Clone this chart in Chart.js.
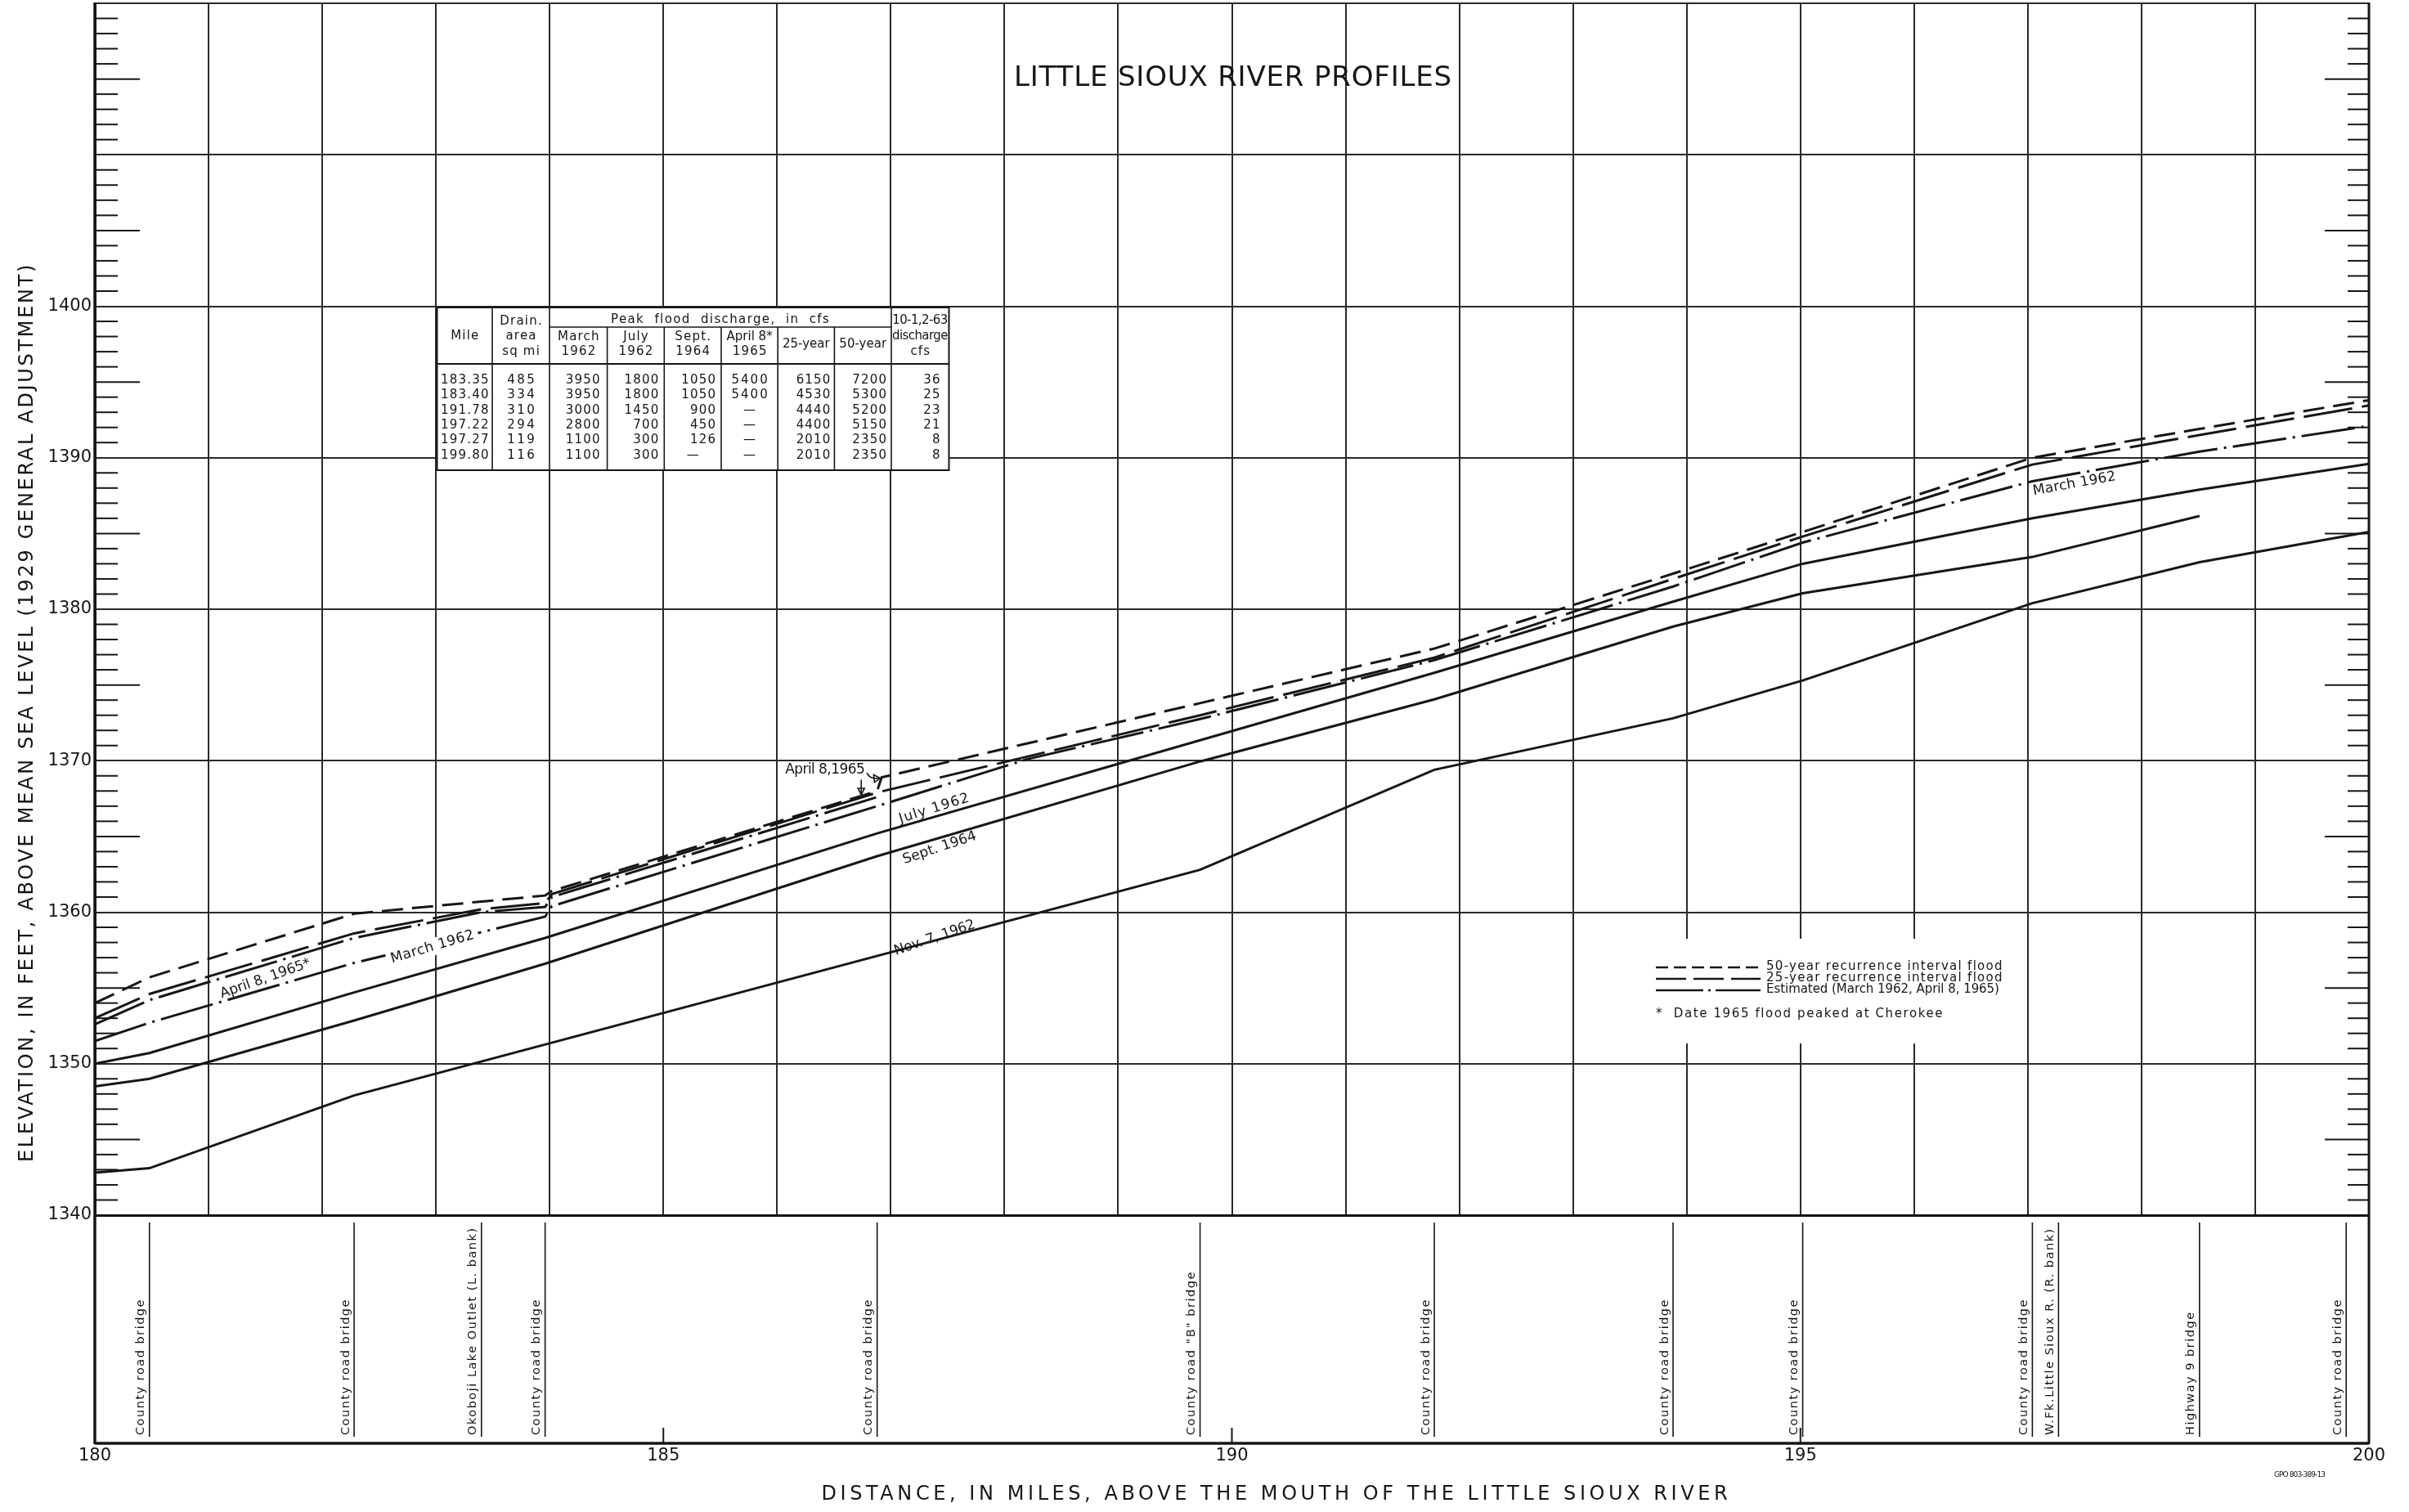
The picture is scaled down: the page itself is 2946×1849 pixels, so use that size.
<!DOCTYPE html>
<html>
<head>
  <title>Little Sioux River profiles</title>
  <script src="https://cdn.jsdelivr.net/npm/chart.js"></script>
  <style>
    body { margin: 0; background: #fff; }
  </style>
</head>
<body>
  <canvas id="profileChart" width="2946" height="1849"></canvas>

  <script>
    // bridges and outlets along the river (mile above the mouth)
    const bridgeMiles = [180.48, 182.28, 183.40, 183.96, 186.88, 189.72, 191.78, 193.88, 195.02, 197.04, 197.27, 198.51, 199.80];
    const bridgeNames = [
      'County road bridge', 'County road bridge', 'Okoboji Lake Outlet (L. bank)', 'County road bridge',
      'County road bridge', 'County road "B" bridge', 'County road bridge', 'County road bridge',
      'County road bridge', 'County road bridge', 'W.Fk.Little Sioux R. (R. bank)', 'Highway 9 bridge',
      'County road bridge'
    ];

    // water-surface profiles, elevation in feet
    const flood50Miles = [180, 180.48, 182.28, 183.96, 184.02, 186.88, 186.92, 189.72, 191.78, 193.88, 195.02, 197.04, 198.51, 200];
    const flood50Elev  = [1354.0, 1355.7, 1359.9, 1361.1, 1361.4, 1368.0, 1368.9, 1373.8, 1377.4, 1382.35, 1385.1, 1390.0, 1391.9, 1393.8];

    const flood25Miles = [180, 180.48, 182.28, 183.40, 183.96, 184.02, 186.88, 189.72, 191.78, 193.88, 195.02, 197.04, 198.51, 200];
    const flood25Elev  = [1353.0, 1354.6, 1358.6, 1360.2, 1360.6, 1361.2, 1367.9, 1373.0, 1376.8, 1382.0, 1384.8, 1389.55, 1391.5, 1393.45];

    const april1965Miles = [180, 180.48, 182.28, 183.40, 183.96, 184.02, 186.88];
    const april1965Elev  = [1352.6, 1354.2, 1358.3, 1360.0, 1360.35, 1361.0, 1367.6];

    const march1962Miles = [180, 180.48, 182.28, 183.96, 184.02, 186.88, 188.2, 189.72, 191.78, 193.88, 195.02, 197.04, 198.51, 200];
    const march1962Elev  = [1351.5, 1352.7, 1356.65, 1359.7, 1360.4, 1367.0, 1370.1, 1372.75, 1376.64, 1381.5, 1384.4, 1388.45, 1390.4, 1392.1];

    const july1962Miles = [180, 180.48, 182.28, 183.96, 186.88, 189.72, 191.78, 193.88, 195.02, 197.04, 198.51, 200];
    const july1962Elev  = [1350.0, 1350.7, 1354.7, 1358.3, 1365.2, 1371.35, 1375.8, 1380.5, 1383.0, 1386.0, 1387.9, 1389.6];

    const sept1964Miles = [180, 180.48, 182.28, 183.96, 186.88, 189.72, 191.78, 193.88, 195.02, 197.04, 198.51];
    const sept1964Elev  = [1348.5, 1349.0, 1352.85, 1356.6, 1363.7, 1369.95, 1374.05, 1378.85, 1381.05, 1383.45, 1386.15];

    const nov1962Miles = [180, 180.48, 182.28, 189.72, 191.78, 193.88, 195.02, 197.04, 198.51, 200];
    const nov1962Elev  = [1342.8, 1343.1, 1347.9, 1362.8, 1369.4, 1372.8, 1375.3, 1380.4, 1383.1, 1385.1];

    // discharge table
    const tableMile      = ['183.35', '183.40', '191.78', '197.22', '197.27', '199.80'];
    const tableDrainArea = [485, 334, 310, 294, 119, 116];
    const peakMarch1962  = [3950, 3950, 3000, 2800, 1100, 1100];
    const peakJuly1962   = [1800, 1800, 1450, 700, 300, 300];
    const peakSept1964   = [1050, 1050, 900, 450, 126, null];
    const peakApril1965  = [5400, 5400, null, null, null, null];
    const flood25Q       = [6150, 4530, 4440, 4400, 2010, 2010];
    const flood50Q       = [7200, 5300, 5200, 5150, 2350, 2350];
    const discharge1963  = [36, 25, 23, 21, 8, 8];

    const INK = '#161616';
    const FONT = '"DejaVu Sans", sans-serif';
    const STRIP_BOTTOM = 1765;

    const DASH_50 = [26, 11];
    const DASH_25 = [60, 12];
    const DASH_EST = [66, 8, 3, 8];

    const toPoints = (xs, ys) => xs.map((x, i) => ({ x: x, y: ys[i] }));

    const profile = (label, xs, ys, dash) => ({
      label: label,
      data: toPoints(xs, ys),
      borderColor: INK,
      borderWidth: 3,
      borderDash: dash,
      pointRadius: 0,
      tension: 0,
      fill: false
    });

    // text squeezed or spread to a given length
    function fitText(ctx, text, x, y, size, width, opts = {}) {
      ctx.save();
      ctx.font = `${size}px ${FONT}`;
      ctx.letterSpacing = '0px';
      const w0 = ctx.measureText(text).width;
      const sp = (width - w0) / text.length;
      ctx.letterSpacing = sp.toFixed(2) + 'px';
      ctx.translate(x, y);
      if (opts.angle) ctx.rotate(opts.angle * Math.PI / 180);
      const align = opts.align || 'center';
      const start = align === 'center' ? -width / 2 : (align === 'right' ? -width : 0);
      if (opts.bg) {
        ctx.fillStyle = '#fff';
        ctx.fillRect(start - 5, -size * 0.62, width + 10, size * 1.24);
      }
      ctx.fillStyle = INK;
      ctx.textAlign = 'left';
      ctx.textBaseline = opts.baseline || 'middle';
      ctx.fillText(text, start, 0);
      ctx.restore();
    }

    function cellText(ctx, text, x, y, align, spacing) {
      ctx.save();
      ctx.font = `15px ${FONT}`;
      const sp = spacing === undefined ? 1.2 : spacing;
      ctx.letterSpacing = sp + 'px';
      ctx.fillStyle = INK;
      ctx.textAlign = align;
      ctx.textBaseline = 'middle';
      let px = x;
      if (align === 'right') px = x + sp;
      if (align === 'center') px = x + sp / 2;
      ctx.fillText(text, px, y);
      ctx.restore();
    }

    function line(ctx, x1, y1, x2, y2, w, dash) {
      ctx.save();
      ctx.strokeStyle = INK;
      ctx.lineWidth = w;
      ctx.setLineDash(dash || []);
      ctx.beginPath();
      ctx.moveTo(x1, y1);
      ctx.lineTo(x2, y2);
      ctx.stroke();
      ctx.restore();
    }

    function drawTable(ctx) {
      const cols = [534.5, 602, 672, 742.6, 812.3, 882, 951.2, 1020.4, 1090, 1160.5];
      const top = 376, headBottom = 445, bottom = 575;
      ctx.fillStyle = '#fff';
      ctx.fillRect(cols[0], top, cols[9] - cols[0], bottom - top);
      ctx.save();
      ctx.strokeStyle = INK;
      ctx.lineWidth = 2;
      ctx.strokeRect(cols[0], top, cols[9] - cols[0], bottom - top);
      ctx.restore();
      line(ctx, cols[0], headBottom, cols[9], headBottom, 2);
      line(ctx, cols[2], 400, cols[8], 400, 1.6);
      cols.slice(1, 9).forEach((cx, i) => {
        const c = i + 1;
        const fromY = (c >= 3 && c <= 7) ? 400 : top;
        line(ctx, cx, fromY, cx, bottom, 1.6);
      });
      const mid = c => (cols[c] + cols[c + 1]) / 2;
      cellText(ctx, 'Mile', mid(0), 411, 'center');
      cellText(ctx, 'Drain.', mid(1), 393, 'center');
      cellText(ctx, 'area', mid(1), 411, 'center');
      cellText(ctx, 'sq mi', mid(1), 430, 'center');
      fitText(ctx, 'Peak  flood  discharge,  in  cfs', (cols[2] + cols[8]) / 2, 391, 15, 268);
      [['March', '1962'], ['July', '1962'], ['Sept.', '1964'], ['April 8*', '1965']].forEach((h, i) => {
        cellText(ctx, h[0], mid(2 + i), 412, 'center', h[0].length > 6 ? 0 : 1.2);
        cellText(ctx, h[1], mid(2 + i), 430, 'center');
      });
      cellText(ctx, '25-year', mid(6), 421, 'center', 0);
      cellText(ctx, '50-year', mid(7), 421, 'center', 0);
      cellText(ctx, '10-1,2-63', mid(8), 392, 'center', -0.6);
      cellText(ctx, 'discharge', mid(8), 411, 'center', -0.6);
      cellText(ctx, 'cfs', mid(8), 430, 'center');

      const rowY = [465, 483.3, 501.7, 520, 538.3, 557];
      const val = v => (v === null ? '\u2014' : String(v));
      tableMile.forEach((m, r) => {
        const yy = rowY[r];
        cellText(ctx, m, mid(0), yy, 'center');
        cellText(ctx, val(tableDrainArea[r]), mid(1), yy, 'center', 2.5);
        const rightCol = (c, v, pad) => cellText(ctx, val(v), v === null ? mid(c) : cols[c + 1] - pad, yy, v === null ? 'center' : 'right');
        rightCol(2, peakMarch1962[r], 9);
        rightCol(3, peakJuly1962[r], 7);
        rightCol(4, peakSept1964[r], 7);
        cellText(ctx, val(peakApril1965[r]), mid(5), yy, 'center', 2);
        rightCol(6, flood25Q[r], 5);
        rightCol(7, flood50Q[r], 6);
        rightCol(8, discharge1963[r], 11);
      });
    }

    function drawLegend(ctx) {
      ctx.fillStyle = '#fff';
      ctx.fillRect(2005, 1148, 470, 128);
      const rows = [
        [1183, [15, 7], '50-year recurrence interval flood', 290],
        [1197, [37, 9], '25-year recurrence interval flood', 290],
        [1211, [58, 6, 3, 6], 'Estimated (March 1962, April 8, 1965)', 285]
      ];
      rows.forEach(r => {
        line(ctx, 2025, r[0], 2153, r[0], 2.6, r[1]);
        fitText(ctx, r[2], 2160, r[0] - 1, 15, r[3], { align: 'left' });
      });
      fitText(ctx, '*  Date 1965 flood peaked at Cherokee', 2025, 1240, 15, 352, { align: 'left' });
    }

    const sheetPlugin = {
      id: 'sheet',
      afterDatasetsDraw(chart) {
        const { ctx, chartArea: area, scales: { x, y } } = chart;

        // foot ticks on both sides
        for (let e = 1341; e < 1420; e++) {
          if (e % 10 === 0) continue;
          const py = y.getPixelForValue(e);
          const big = e % 5 === 0;
          line(ctx, area.left, py, area.left + (big ? 55 : 28), py, 2);
          line(ctx, area.right, py, area.right - (big ? 54 : 26), py, 2);
        }

        // lower strip with the bridges
        line(ctx, area.left, area.top - 1, area.left, STRIP_BOTTOM + 1, 3.5);
        line(ctx, area.right, area.top - 1, area.right, STRIP_BOTTOM + 1, 3);
        line(ctx, area.left, STRIP_BOTTOM, area.right, STRIP_BOTTOM, 3.5);
        [185, 190, 195].forEach(m => {
          const px = x.getPixelForValue(m);
          line(ctx, px, STRIP_BOTTOM - 19, px, STRIP_BOTTOM, 2);
        });
        bridgeMiles.forEach((m, i) => {
          const px = x.getPixelForValue(m);
          line(ctx, px, area.bottom + 9, px, STRIP_BOTTOM - 8, 1.6);
          ctx.save();
          ctx.translate(px - 3, STRIP_BOTTOM - 10);
          ctx.rotate(-Math.PI / 2);
          ctx.font = `14.5px ${FONT}`;
          ctx.letterSpacing = '1.5px';
          ctx.fillStyle = INK;
          ctx.textAlign = 'left';
          ctx.textBaseline = 'bottom';
          ctx.fillText(bridgeNames[i], 0, 0);
          ctx.restore();
        });

        drawTable(ctx);
        drawLegend(ctx);

        // profile labels
        const at = (m, e) => [x.getPixelForValue(m), y.getPixelForValue(e)];
        let p = at(181.5, 1355.6);
        fitText(ctx, 'April 8, 1965*', p[0], p[1], 17, 116, { angle: -19.4 });
        p = at(182.97, 1357.7);
        fitText(ctx, 'March 1962', p[0], p[1], 17, 106, { angle: -16.5, bg: true });
        p = at(197.41, 1388.27);
        fitText(ctx, 'March 1962', p[0], p[1], 17, 103, { angle: -10.3 });
        p = at(187.385, 1366.84);
        fitText(ctx, 'July 1962', p[0], p[1], 17, 90, { angle: -17.4 });
        p = at(187.43, 1364.24);
        fitText(ctx, 'Sept. 1964', p[0], p[1], 17, 94, { angle: -18.6 });
        p = at(187.385, 1358.29);
        fitText(ctx, 'Nov. 7, 1962', p[0], p[1], 17, 103, { angle: -18.9 });

        p = at(186.42, 1369.38);
        fitText(ctx, 'April 8,1965', p[0], p[1], 17, 97);
        // arrows to the April 8, 1965 marks at the bridge
        const a1 = at(186.74, 1368.75), a2 = at(186.74, 1367.75);
        line(ctx, a1[0], a1[1], a2[0], a2[1], 1.6);
        ctx.save();
        ctx.strokeStyle = INK;
        ctx.lineWidth = 1.6;
        ctx.beginPath();
        ctx.moveTo(a2[0] - 4, a2[1] - 8);
        ctx.lineTo(a2[0], a2[1]);
        ctx.lineTo(a2[0] + 4, a2[1] - 8);
        ctx.closePath();
        ctx.stroke();
        const b1 = at(186.79, 1369.2), b2 = at(186.9, 1368.85);
        ctx.beginPath();
        ctx.moveTo(b1[0], b1[1]);
        ctx.quadraticCurveTo(b1[0] + 4, b2[1] + 2, b2[0], b2[1]);
        ctx.stroke();
        ctx.beginPath();
        ctx.moveTo(b2[0] - 7, b2[1] - 4);
        ctx.lineTo(b2[0] + 1, b2[1]);
        ctx.lineTo(b2[0] - 6, b2[1] + 5);
        ctx.closePath();
        ctx.stroke();
        ctx.restore();

        // titles
        fitText(ctx, 'LITTLE SIOUX RIVER PROFILES', 1508, 96, 34, 536);
        fitText(ctx, 'DISTANCE, IN MILES, ABOVE THE MOUTH OF THE LITTLE SIOUX RIVER', 1561, 1828, 24, 1113);
        fitText(ctx, 'ELEVATION, IN FEET, ABOVE MEAN SEA LEVEL (1929 GENERAL ADJUSTMENT)', 34, 871, 24, 1100, { angle: -90 });
        fitText(ctx, 'GPO 803-389-13', 2812, 1804, 9, 62);
      }
    };

    const chart = new Chart(document.getElementById('profileChart'), {
      type: 'line',
      data: {
        datasets: [
          profile('50-year recurrence interval flood', flood50Miles, flood50Elev, DASH_50),
          profile('25-year recurrence interval flood', flood25Miles, flood25Elev, DASH_25),
          profile('April 8, 1965', april1965Miles, april1965Elev, DASH_EST),
          profile('March 1962', march1962Miles, march1962Elev, DASH_EST),
          profile('July 1962', july1962Miles, july1962Elev, []),
          profile('Sept. 1964', sept1964Miles, sept1964Elev, []),
          profile('Nov. 7, 1962', nov1962Miles, nov1962Elev, [])
        ]
      },
      options: {
        responsive: false,
        animation: false,
        devicePixelRatio: 1,
        layout: { padding: { top: 4, right: 49, bottom: 0, left: 0 } },
        plugins: { legend: { display: false }, tooltip: { enabled: false } },
        scales: {
          x: {
            type: 'linear',
            min: 180,
            max: 200,
            afterFit: s => {
              s.height = 363;
              s.paddingLeft = 0;
              s.paddingRight = 0;
            },
            grid: { color: '#2a2a2a', lineWidth: 2, drawTicks: false },
            border: { color: INK, width: 3 },
            ticks: {
              stepSize: 1,
              autoSkip: false,
              maxRotation: 0,
              padding: 282,
              color: INK,
              font: { family: 'DejaVu Sans', size: 21 },
              callback: v => (v % 5 === 0 ? String(v) : '')
            }
          },
          y: {
            type: 'linear',
            min: 1340,
            max: 1420,
            afterFit: s => {
              s.width = 116;
              s.paddingTop = 0;
              s.paddingBottom = 0;
            },
            grid: { color: '#2a2a2a', lineWidth: 2, drawTicks: false },
            border: { color: INK, width: 3 },
            ticks: {
              stepSize: 10,
              padding: 4,
              color: INK,
              font: { family: 'DejaVu Sans', size: 21 },
              callback: v => (v <= 1400 ? String(v) : '')
            }
          }
        }
      },
      plugins: [sheetPlugin]
    });
  </script>
</body>
</html>
